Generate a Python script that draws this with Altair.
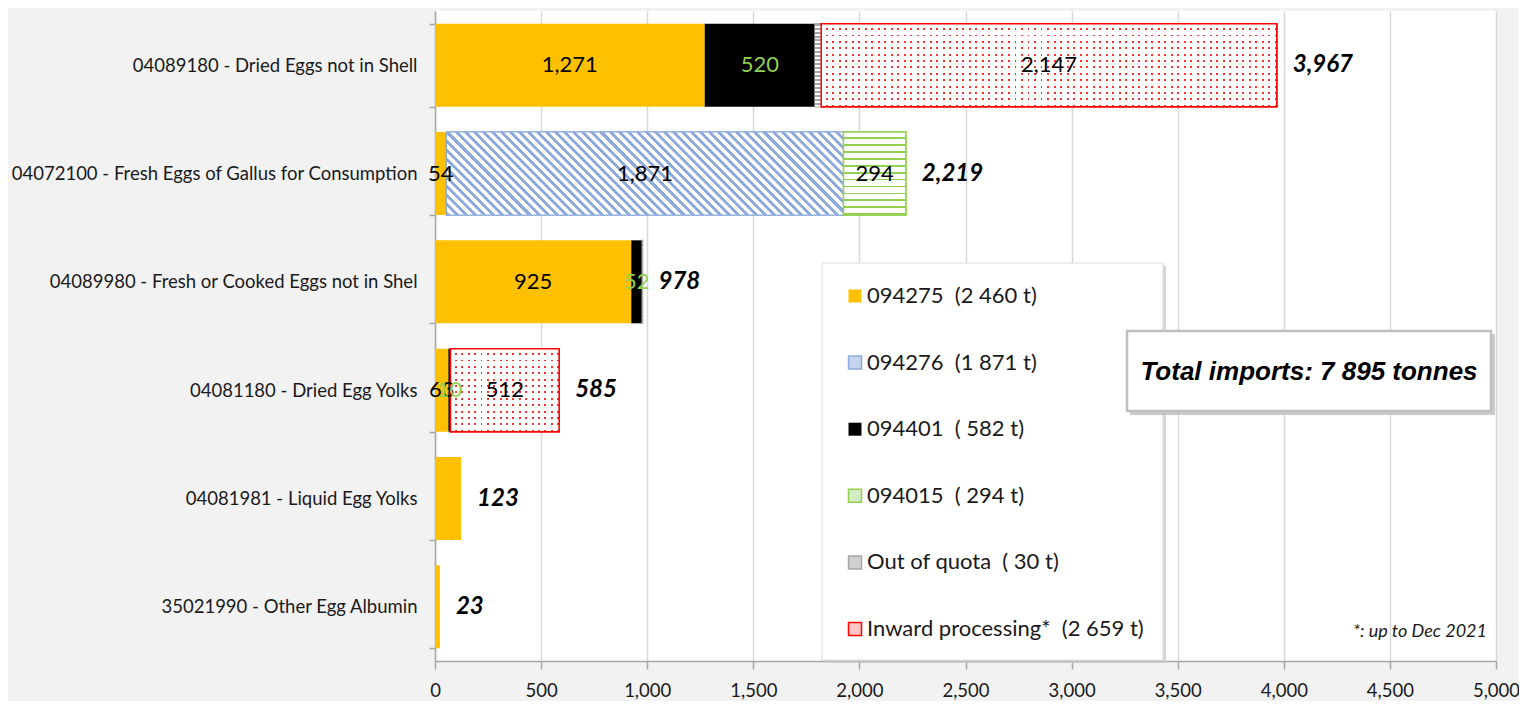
import altair as alt
import pandas as pd

# ---------------- data ----------------
categories = [
    "04089180 - Dried Eggs not in Shell",
    "04072100 - Fresh Eggs of Gallus for Consumption",
    "04089980 - Fresh or Cooked Eggs not in Shel",
    "04081180 - Dried Egg Yolks",
    "04081981 - Liquid Egg Yolks",
    "35021990 - Other Egg Albumin",
]
codes = ["094275", "094276", "094401", "094015", "out", "inward"]
legend_names = [
    "094275\u00a0\u00a0(2 460 t)",
    "094276\u00a0\u00a0(1 871 t)",
    "094401\u00a0\u00a0(\u00a0582 t)",
    "094015\u00a0\u00a0(\u00a0294 t)",
    "Out of quota\u00a0\u00a0(\u00a030 t)",
    "Inward processing*\u00a0\u00a0(2 659 t)",
]
v_094275 = [1271, 54, 925, 63, 123, 23]
v_094276 = [0, 1871, 0, 0, 0, 0]
v_094401 = [520, 0, 52, 10, 0, 0]
v_094015 = [0, 294, 0, 0, 0, 0]
v_out_of_quota = [29, 0, 1, 0, 0, 0]
v_inward = [2147, 0, 0, 512, 0, 0]
totals = [3967, 2219, 978, 585, 123, 23]
x_ticks = [0, 500, 1000, 1500, 2000, 2500, 3000, 3500, 4000, 4500, 5000]
x_max = 5000
total_note = "Total imports: 7 895 tonnes"
foot_note = "*: up to Dec 2021"

# ---------------- styles ----------------
FONT = "Lato, Carlito, Liberation Sans, sans-serif"
FONT_ARIAL = "Liberation Sans, Arial, sans-serif"
W, H = 1061, 650
PAD_IN = 0.234
fills = ["#FFC000", "#C5D5EE", "#000000", "#D5EBC3", "#D0D0D0", "#FFC4C4"]
strokes = ["rgba(0,0,0,0)", "#8EA9DB", "rgba(0,0,0,0)", "#92D050", "#A6A6A6", "#FF0000"]

series_values = [v_094275, v_094276, v_094401, v_094015, v_out_of_quota, v_inward]
rows = []
for i, cat in enumerate(categories):
    acc = 0
    for code, name, vals in zip(codes, legend_names, series_values):
        v = vals[i]
        if v > 0:
            rows.append(dict(category=cat, code=code, series=name, value=v,
                             start=acc, end=acc + v, mid=acc + v / 2))
            acc += v
df = pd.DataFrame(rows)
df_tot = pd.DataFrame({"category": categories, "total": totals})

px_per_unit = W / x_max
bar_h = H / len(categories) * (1 - PAD_IN)

xscale = alt.Scale(domain=[0, x_max], nice=False, zero=True)
yscale = alt.Scale(paddingInner=PAD_IN, paddingOuter=PAD_IN / 2)


def xenc(field, axis=None):
    if axis is None:
        return alt.X(field, scale=xscale, title=None)
    return alt.X(field, scale=xscale, axis=axis, title=None)


def yenc(axis=None):
    if axis is None:
        return alt.Y("category:N", sort=categories, scale=yscale, title=None)
    return alt.Y("category:N", sort=categories, scale=yscale, axis=axis, title=None)


def stripe_gradient(c1, c2, n, frac, x1, y1, x2, y2):
    stops = []
    for k in range(n):
        a = k / n
        b = (k + frac) / n
        c = (k + 1) / n
        stops += [alt.GradientStop(color=c1, offset=a), alt.GradientStop(color=c1, offset=b),
                  alt.GradientStop(color=c2, offset=b), alt.GradientStop(color=c2, offset=min(c, 1.0))]
    return alt.LinearGradient(gradient="linear", stops=stops, x1=x1, y1=y1, x2=x2, y2=y2)


x_axis = alt.Axis(values=x_ticks, format=",d", labelFont=FONT, labelFontSize=18.5,
                  labelColor="#1a1a1a", labelPadding=12, labelFlush=False, labelOverlap=False,
                  domainColor="#a6a6a6", domainWidth=1.5, tickColor="#a6a6a6", tickWidth=1.5,
                  tickSize=8, grid=True, gridColor="#d9d9d9", gridWidth=1.5)
y_axis = alt.Axis(labelFont=FONT, labelFontSize=18.5, labelColor="#1a1a1a", labelLimit=600,
                  labelPadding=12, domainColor="#a6a6a6", domainWidth=1.5, tickColor="#a6a6a6",
                  tickWidth=1.5, tickSize=6, tickBand="extent", grid=False)

legend = alt.Legend(title=None, orient="none", legendX=387, legendY=252, direction="vertical",
                    padding=22, rowPadding=44.6,
                    symbolType="square", symbolSize=169, symbolStrokeWidth=1.5,
                    labelFont=FONT, labelFontSize=22, labelColor="#1a1a1a", labelLimit=500,
                    labelOffset=1)

# legend frame (drawn as marks so that the total box can sit on top of it)
frame_df = pd.DataFrame({"frame": ["legend"]})
legend_shadow = alt.Chart(frame_df).mark_rect(fill="#c4c4c4", opacity=0.7).encode(
    x=alt.value(390), x2=alt.value(731), y=alt.value(255), y2=alt.value(652))
legend_frame = alt.Chart(frame_df).mark_rect(fill="white", stroke="#dcdcdc", strokeWidth=1).encode(
    x=alt.value(387), x2=alt.value(728), y=alt.value(252), y2=alt.value(649))

bars = alt.Chart(df).mark_bar(strokeWidth=1.5).encode(
    x=xenc("start:Q", x_axis),
    x2="end:Q",
    y=yenc(y_axis),
    fill=alt.Fill("series:N", scale=alt.Scale(domain=legend_names, range=fills), legend=legend),
    stroke=alt.Stroke("series:N", scale=alt.Scale(domain=legend_names, range=strokes), legend=legend),
)

layers = [bars]

# pattern overlays (texture only; positions come from the same scales)
for r in rows:
    w = r["value"] * px_per_unit
    h = bar_h
    filt = f"datum.category == '{r['category']}' && datum.code == '{r['code']}'"
    if r["code"] == "094276":
        rr = h / w
        s = (1 + rr) / (1 + rr * rr)
        n = max(1, round((w + h) / 9))
        g = stripe_gradient("#8EA9DB", "#ffffff", n, 0.45, 0, 1, s, 1 - rr * s)
        layers.append(alt.Chart(df).transform_filter(filt).mark_bar(
            fill=g, stroke="#8EA9DB", strokeWidth=1.2).encode(x=xenc("start:Q"), x2="end:Q", y=yenc()))
    elif r["code"] == "094015":
        n = max(1, round(h / 7))
        g = stripe_gradient("#ffffff", "#92D050", n, 0.75, 0, 0, 0, 1)
        layers.append(alt.Chart(df).transform_filter(filt).mark_bar(
            fill=g, stroke="#92D050", strokeWidth=1.5).encode(x=xenc("start:Q"), x2="end:Q", y=yenc()))
    elif r["code"] == "out":
        n = max(1, round(h / 4))
        g = stripe_gradient("#A6A6A6", "#ffffff", n, 0.5, 0, 0, 0, 1)
        layers.append(alt.Chart(df).transform_filter(filt).mark_bar(
            fill=g, strokeWidth=0).encode(x=xenc("start:Q"), x2="end:Q", y=yenc()))
    elif r["code"] == "inward":
        nx = max(1, round(w / 6.5))
        ny = max(1, round(h / 6.5))
        gv = stripe_gradient("#ffffff", "#FF3030", nx, 0.7, 0, 0, 1, 0)
        gh = stripe_gradient("#ffffff", "rgba(255,255,255,0)", ny, 0.7, 0, 0, 0, 1)
        layers.append(alt.Chart(df).transform_filter(filt).mark_bar(
            fill=gv, strokeWidth=0).encode(x=xenc("start:Q"), x2="end:Q", y=yenc()))
        layers.append(alt.Chart(df).transform_filter(filt).mark_bar(
            fill=gh, stroke="#FF0000", strokeWidth=1.5).encode(x=xenc("start:Q"), x2="end:Q", y=yenc()))

seg_labels = alt.Chart(df).transform_joinaggregate(
    nseg="count()", groupby=["category"]
).transform_filter("datum.code != 'out' && datum.nseg > 1").mark_text(
    font=FONT, fontSize=22, baseline="middle", align="center").encode(
    x=xenc("mid:Q"), y=yenc(),
    text=alt.Text("value:Q", format=",.0f"),
    color=alt.condition("datum.code == '094401'", alt.value("#92D050"), alt.value("#000000")),
)
layers.append(seg_labels)

tot_labels = alt.Chart(df_tot).mark_text(
    font=FONT, fontSize=24, fontWeight="bold", fontStyle="italic", baseline="middle",
    align="left", dx=16, color="#000000").encode(
    x=xenc("total:Q"), y=yenc(), text=alt.Text("total:Q", format=",.0f"))
layers.append(tot_labels)

note_df = pd.DataFrame({"note": [total_note]})
box_shadow = alt.Chart(note_df).mark_rect(fill="#bdbdbd", opacity=0.8).encode(
    x=alt.value(695), x2=alt.value(1060), y=alt.value(323), y2=alt.value(404))
box = alt.Chart(note_df).mark_rect(fill="white", stroke="#bfbfbf", strokeWidth=2.5).encode(
    x=alt.value(692), x2=alt.value(1056), y=alt.value(320), y2=alt.value(400))
box_text = alt.Chart(note_df).mark_text(
    font=FONT_ARIAL, fontSize=26, fontWeight="bold", fontStyle="italic", align="center",
    baseline="middle", color="#000000").encode(
    x=alt.value(874), y=alt.value(361), text="note:N")
foot_df = pd.DataFrame({"note": [foot_note]})
foot = alt.Chart(foot_df).mark_text(
    font=FONT, fontSize=18, fontStyle="italic", align="right", baseline="middle",
    color="#1a1a1a").encode(x=alt.value(1052), y=alt.value(621), text="note:N")
layers += [legend_shadow, legend_frame, box_shadow, box, box_text, foot]

chart = alt.layer(*layers).properties(
    width=W, height=H,
    padding={"left": 427, "top": 3, "right": 23, "bottom": 40},
    autosize=alt.AutoSizeParams(type="none"),
).configure(background="#f2f2f2").configure_view(fill="white", strokeWidth=0)

chart.save("out.html", embed_options={"renderer": "svg", "actions": False})
